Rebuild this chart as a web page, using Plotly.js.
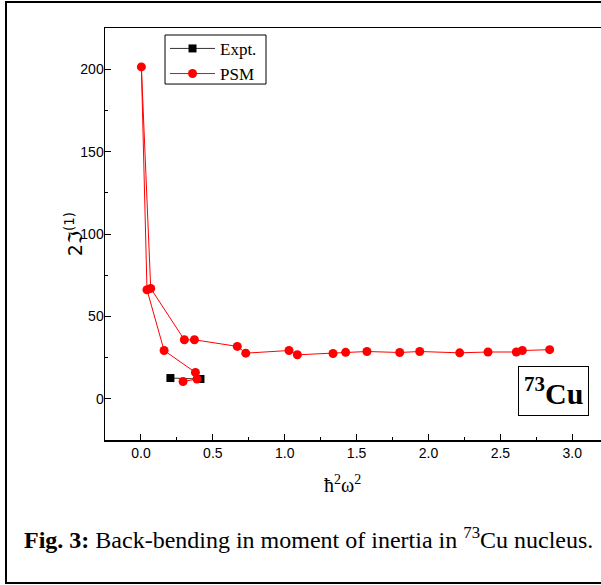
<!DOCTYPE html>
<html>
<head>
<meta charset="utf-8">
<script src="https://cdn.plot.ly/plotly-3.0.1.min.js"></script>
<style>html,body{margin:0;padding:0;background:#fff;}</style>
</head>
<body>
<div id="chart" style="width:601px;height:585px;"></div>
<script>
// Experimental data
const exptX = [0.205, 0.414];
const exptY = [12.6, 12.0];
// PSM calculation (in connection order)
const psmX = [0.293, 0.390, 0.379, 0.161, 0.042, 0.003, 0.068, 0.302, 0.372, 0.670, 0.729, 1.030, 1.088, 1.336, 1.424, 1.572, 1.800, 1.939, 2.217, 2.414, 2.611, 2.653, 2.843];
const psmY = [10.5, 12.0, 16.0, 29.3, 66.2, 201.4, 67.0, 35.8, 35.8, 31.8, 27.7, 29.3, 26.7, 27.5, 28.2, 28.7, 28.1, 28.7, 27.9, 28.4, 28.4, 29.3, 29.8];
const xTicks = [0, 0.5, 1.0, 1.5, 2.0, 2.5, 3.0];
const xTickText = ['0.0', '0.5', '1.0', '1.5', '2.0', '2.5', '3.0'];
const yTicks = [0, 50, 100, 150, 200];

const serif = '"Liberation Serif", "Times New Roman", serif';
const sans = '"Liberation Sans", Arial, sans-serif';

const traces = [
  {x: exptX, y: exptY, name: 'Expt.', mode: 'lines+markers', type: 'scatter',
   line: {color: '#333333', width: 1}, marker: {symbol: 'square', size: 8, color: '#000'}},
  {x: psmX, y: psmY, name: 'PSM', mode: 'lines+markers', type: 'scatter',
   line: {color: '#ff0000', width: 1}, marker: {symbol: 'circle', size: 9, color: '#ff0000'}}
];

const axisCommon = {
  showgrid: false, zeroline: false, showline: true, linecolor: '#000', linewidth: 1.5,
  mirror: true, ticks: 'inside', ticklen: 6, tickwidth: 1, tickcolor: '#000',
  tickfont: {family: sans, size: 14, color: '#000'}
};

const layout = {
  width: 601, height: 585,
  margin: {l: 105, r: 0, t: 28, b: 145},
  paper_bgcolor: '#fff', plot_bgcolor: '#fff',
  showlegend: true,
  legend: {x: 0.121, y: 0.993, xanchor: 'left', yanchor: 'top', bgcolor: 'rgba(0,0,0,0)',
           borderwidth: 0, font: {family: serif, size: 17, color: '#000'},
           itemwidth: 45, tracegroupgap: 0},
  xaxis: Object.assign({}, axisCommon, {range: [-0.25, 3.2], tickvals: xTicks, ticktext: xTickText,
           minor: {dtick: 0.25, ticks: 'inside', ticklen: 3, tickcolor: '#000'}}),
  yaxis: Object.assign({}, axisCommon, {range: [-25, 225], tickvals: yTicks, ticklabelstandoff: -3,
           minor: {dtick: 25, ticks: 'inside', ticklen: 3, tickcolor: '#000'}}),
  annotations: [
    {xref: 'paper', yref: 'paper', x: 0.478, y: -0.108, xanchor: 'center', yanchor: 'middle',
     text: 'ħ<sup>2</sup>ω<sup>2</sup>', showarrow: false, font: {family: serif, size: 20, color: '#000'}},
    {xref: 'paper', yref: 'paper', x: -0.062, y: 0.5, xanchor: 'center', yanchor: 'middle', textangle: -90,
     text: '2ℑ<sup>(1)</sup>', showarrow: false, font: {family: '"DejaVu Sans", sans-serif', size: 19, color: '#000'}},
    {xref: 'paper', yref: 'paper', x: 0.905, y: 0.119, xanchor: 'center', yanchor: 'middle',
     text: '<b><sup>73</sup>Cu</b>', showarrow: false, bordercolor: '#000', borderwidth: 1, borderpad: 5,
     font: {family: serif, size: 30, color: '#000'}},
    {xref: 'paper', yref: 'paper', x: -0.167, y: -0.238, xanchor: 'left', yanchor: 'middle',
     text: '<b>Fig. 3:</b> Back-bending in moment of inertia in <sup>73</sup>Cu nucleus.', showarrow: false,
     font: {family: serif, size: 24, color: '#000'}}
  ],
  shapes: [
    {type: 'rect', xref: 'paper', yref: 'paper', x0: -0.1996, x1: 1.05, y0: -0.347, y1: 1.063,
     line: {color: '#000', width: 2}, fillcolor: 'rgba(0,0,0,0)', layer: 'below'},
    {type: 'rect', xref: 'paper', yref: 'paper', x0: 0.121, x1: 0.3246, y0: 0.864, y1: 0.983,
     line: {color: '#000', width: 1}, fillcolor: 'rgba(0,0,0,0)', layer: 'above'}
  ]
};

Plotly.newPlot('chart', traces, layout, {displayModeBar: false, staticPlot: true});
</script>
</body>
</html>
